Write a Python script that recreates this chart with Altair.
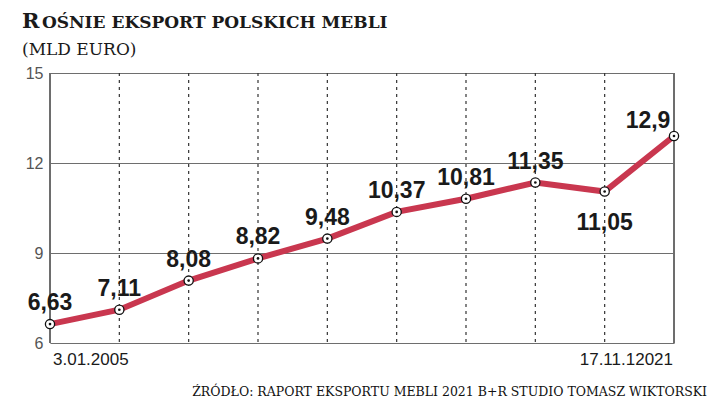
import altair as alt
import pandas as pd

values = [6.63, 7.11, 8.08, 8.82, 9.48, 10.37, 10.81, 11.35, 11.05, 12.9]
labels = ["6,63", "7,11", "8,08", "8,82", "9,48", "10,37", "10,81", "11,35", "11,05", "12,9"]
y_ticks = [6, 9, 12, 15]
x_first = "3.01.2005"
x_last = "17.11.12021"
title_first = "R"
title_rest = "OŚNIE EKSPORT POLSKICH MEBLI"
subtitle = "(MLD EURO)"
source = "ŹRÓDŁO: RAPORT EKSPORTU MEBLI 2021 B+R STUDIO TOMASZ WIKTORSKI"

n = len(values)
df = pd.DataFrame({"i": list(range(n)), "v": values, "lab": labels})
grid_df = pd.DataFrame({"i": list(range(1, n - 1))})

W, H = 624, 270
sans = "Liberation Sans"
serif = "DejaVu Serif"
xs = alt.Scale(domain=[0, n - 1], nice=False, zero=False)
ys = alt.Scale(domain=[6, 15], nice=False, zero=False)
X = alt.X("i:Q", scale=xs, axis=None)
Y = alt.Y("v:Q", scale=ys, axis=alt.Axis(values=y_ticks, grid=True, gridColor="#6e6e6e",
                                           gridWidth=1.2, domain=False, ticks=False,
                                           labelFont=sans, labelFontSize=16,
                                           labelColor="#555555", labelPadding=7, title=None))

base = alt.Chart(df)

gridlines = base.mark_line(opacity=0).encode(x=X, y=Y)

vdash = alt.Chart(grid_df).mark_rule(color="#333333", strokeWidth=1.2, strokeDash=[3, 4]).encode(
    x=alt.X("i:Q", scale=xs, axis=None))

left_line = base.mark_rule(color="#6e6e6e", strokeWidth=1.2).encode(
    x=alt.value(0), y=alt.value(0), y2=alt.value(H))
right_line = base.mark_rule(color="#6e6e6e", strokeWidth=1.2).encode(
    x=alt.value(W), y=alt.value(0), y2=alt.value(H))

line = base.mark_line(color="#c9374f", strokeWidth=6).encode(x=X, y=Y)
pts = base.mark_point(filled=True, fill="white", stroke="#111111", strokeWidth=1.3,
                      size=85, opacity=1, shape="circle").encode(x=X, y=Y)
dots = base.mark_point(filled=True, color="#111111", size=7, opacity=1).encode(x=X, y=Y)

LS = 23
above = base.transform_filter("datum.i != 8 && datum.i != 9").mark_text(
    font=sans, fontWeight="bold", fontSize=LS, color="#1a1a1a", dy=-14, baseline="alphabetic"
).encode(x=X, y=Y, text="lab:N")
below = base.transform_filter("datum.i == 8").mark_text(
    font=sans, fontWeight="bold", fontSize=LS, color="#1a1a1a", dy=38, baseline="alphabetic"
).encode(x=X, y=Y, text="lab:N")
last = base.transform_filter("datum.i == 9").mark_text(
    font=sans, fontWeight="bold", fontSize=LS, color="#1a1a1a", dy=-8, dx=-26, baseline="alphabetic"
).encode(x=X, y=Y, text="lab:N")

def txt(s, x, y, size, weight="normal", font=serif, color="#1a1a1a", align="left"):
    return alt.Chart(pd.DataFrame({"t": [s]})).mark_text(
        font=font, fontSize=size, fontWeight=weight, color=color, align=align, baseline="alphabetic"
    ).encode(x=alt.value(x), y=alt.value(y), text="t:N")

t1 = txt(title_first, -28, -45, 21, "bold")
t2 = txt(title_rest, -8, -45, 17, "bold")
t3 = txt(subtitle, -28, -18, 17)
xl1 = txt(x_first, 3, 292, 17, font=sans, color="#1a1a1a")
xl2 = txt(x_last, W - 1, 292, 17, font=sans, color="#1a1a1a", align="right")
src = txt(source, 657, 323, 12.5, color="#111111", align="right")

chart = alt.layer(gridlines, vdash, left_line, right_line, line, pts, dots, above, below, last,
                  t1, t2, t3, xl1, xl2, src).properties(
    width=W, height=H,
    autosize=alt.AutoSizeParams(type="none"),
    padding={"left": 42, "top": 65, "right": 38, "bottom": 63},
).configure_view(stroke=None).configure(background="white")

chart.save("out.html", embed_options={"renderer": "svg", "actions": False})
